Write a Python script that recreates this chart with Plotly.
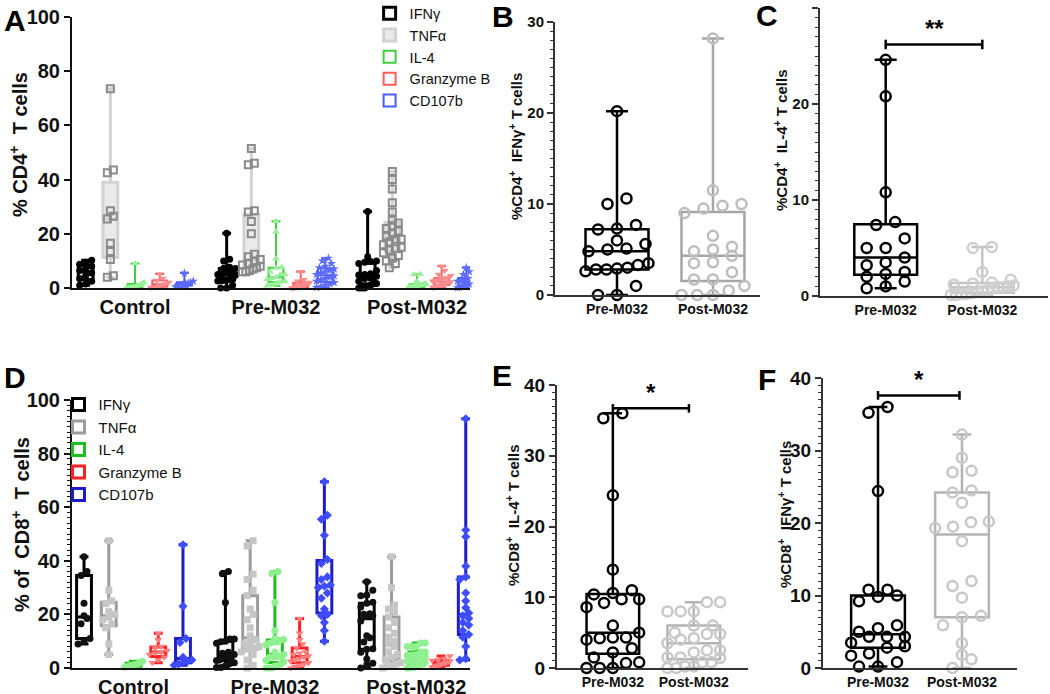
import plotly.graph_objects as go

FONT = "Liberation Sans, Arial, Helvetica, sans-serif"
W, H = 1050, 694

groups = ["Control", "Pre-M032", "Post-M032"]
pair_groups = ["Pre-M032", "Post-M032"]
series_names = ["IFNγ", "TNFα", "IL-4", "Granzyme B", "CD107b"]

# ---------------- CD4+ T cells (%), panel A (and B, C) ----------------
cd4_ctrl_ifng = [10.2, 9.5, 8.8, 8.0, 7.2, 6.5, 5.5, 4.5, 3.5, 2.5, 1.5, 1.0]
cd4_ctrl_tnfa = [73.5, 43.5, 42.5, 28.5, 26.5, 25.5, 16.5, 13.5, 10.5, 4.5, 4.0]
cd4_ctrl_il4 = [9.0, 2.0, 1.5, 1.0, 0.8, 0.5, 0.3, 0.2, 0.1, 0.0]
cd4_ctrl_grzb = [5.2, 3.5, 2.8, 2.0, 1.5, 1.2, 0.8, 0.5, 0.3, 0.2]
cd4_ctrl_cd107b = [5.5, 2.5, 2.0, 1.8, 1.5, 1.2, 1.0, 0.8, 0.5]

cd4_pre_ifng = [20.2, 10.6, 10.0, 7.7, 7.3, 7.2, 6.0, 5.6, 5.1, 5.0, 4.8, 3.5, 3.3,
                3.0, 2.9, 2.8, 2.8, 2.6, 1.0, 0.0, 0.0]
cd4_pre_tnfa = [51.5, 46.0, 45.5, 28.5, 28.0, 24.5, 20.0, 12.5, 11.5, 10.5, 10.0, 9.0,
                8.5, 8.0, 7.5, 7.0, 6.5, 6.0, 6.0]
cd4_pre_il4 = [24.6, 20.8, 10.8, 7.7, 7.4, 6.0, 5.0, 5.0, 4.0, 3.5, 3.2, 2.5, 2.3,
               2.0, 1.5, 1.0, 0.8]
cd4_pre_grzb = [6.0, 3.0, 2.5, 2.0, 1.8, 1.5, 1.2, 1.0, 0.8, 0.6, 0.5, 0.3, 0.2, 0.1, 0.0]
cd4_pre_cd107b = [11.0, 10.0, 9.0, 8.0, 7.5, 7.0, 6.5, 6.0, 5.5, 5.0, 4.5, 4.0, 3.5,
                  3.0, 2.5, 2.0, 1.5, 1.0, 0.5, 0.2]

cd4_post_ifng = [28.2, 11.5, 10.0, 9.8, 9.5, 9.0, 6.5, 5.3, 5.0, 4.8, 4.3, 3.6, 3.5,
                 2.5, 1.7, 1.7, 1.0, 0.5, 0.0, 0.0, 0.0]
cd4_post_tnfa = [43.0, 40.0, 36.5, 31.5, 28.0, 25.0, 24.0, 23.0, 22.0, 21.0, 20.0,
                 19.0, 18.0, 18.0, 17.0, 16.0, 15.0, 14.5, 14.0, 13.0, 12.0, 11.0,
                 10.0, 9.0, 7.5]
cd4_post_il4 = [5.1, 5.0, 2.5, 1.7, 1.4, 1.3, 1.2, 1.1, 1.0, 0.9, 0.9, 0.8, 0.6, 0.5,
                0.4, 0.3, 0.2, 0.2, 0.1, 0.1]
cd4_post_grzb = [8.0, 6.5, 5.0, 4.5, 3.8, 3.5, 3.2, 3.0, 2.8, 2.5, 2.2, 2.0, 1.8, 1.5,
                 1.2, 1.0, 0.8, 0.5, 0.3, 0.2]
cd4_post_cd107b = [7.5, 6.0, 5.0, 4.2, 3.8, 3.5, 3.0, 2.8, 2.5, 2.2, 2.0, 1.8, 1.5,
                   1.2, 1.0, 0.8, 0.5, 0.3, 0.1]

# ---------------- CD8+ T cells (%), panel D (and E, F) ----------------
cd8_ctrl_ifng = [41.5, 36.0, 34.5, 24.2, 19.5, 18.5, 16.5, 11.0, 10.0, 9.0]
cd8_ctrl_tnfa = [47.5, 29.0, 25.0, 24.0, 21.0, 20.0, 19.0, 18.0, 16.5, 15.0, 9.0, 5.0]
cd8_ctrl_il4 = [2.5, 2.0, 1.5, 1.2, 1.0, 0.8, 0.5, 0.3]
cd8_ctrl_grzb = [13.0, 10.5, 8.0, 7.5, 6.5, 6.0, 5.5, 5.0, 4.0, 3.0, 2.0]
cd8_ctrl_cd107b = [46.0, 23.0, 11.0, 9.5, 4.0, 3.0, 2.5, 2.0, 1.5, 1.0]

cd8_pre_ifng = [36.0, 35.2, 24.4, 10.8, 10.8, 10.0, 9.8, 9.2, 5.9, 5.5, 5.0, 4.3, 4.3,
                4.3, 3.5, 3.0, 2.8, 2.0, 1.7, 0.8, 0.2, 0.2]
cd8_pre_tnfa = [47.5, 45.5, 35.0, 33.0, 29.0, 27.0, 22.0, 20.0, 18.0, 15.0, 12.0, 10.5,
                9.5, 9.0, 8.0, 7.5, 7.0, 6.0, 5.0, 3.0, 1.0, 0.0]
cd8_pre_il4 = [36.0, 35.3, 24.4, 13.9, 11.0, 10.6, 10.4, 9.7, 9.7, 9.2, 8.6, 6.0, 5.0,
               4.3, 4.3, 4.2, 4.0, 2.8, 2.2, 1.5, 0.8, 0.7, 0.0, 0.0, 0.0]
cd8_pre_grzb = [18.5, 13.0, 10.5, 9.0, 7.5, 6.0, 5.5, 5.0, 4.5, 4.0, 3.5, 3.0, 2.5,
                2.0, 1.5, 1.0, 0.5, 0.0]
cd8_pre_cd107b = [69.5, 57.0, 55.5, 49.5, 40.5, 39.0, 34.0, 33.0, 31.0, 30.5, 30.0,
                  28.0, 26.0, 22.0, 20.0, 19.5, 17.0, 14.0, 10.0]

cd8_post_ifng = [32.2, 29.0, 27.2, 27.0, 24.5, 24.2, 22.8, 20.2, 20.1, 19.5, 19.3,
                 17.5, 12.0, 11.3, 9.7, 7.2, 7.0, 5.9, 3.4, 1.8, 1.2, 0.0]
cd8_post_tnfa = [41.5, 30.0, 23.5, 22.0, 21.0, 19.0, 17.0, 15.0, 13.0, 11.5, 10.0, 9.0,
                 8.0, 6.0, 5.0, 4.0, 3.0, 2.0, 1.5, 1.0, 0.5, 0.0]
cd8_post_il4 = [9.3, 9.3, 8.0, 8.0, 8.0, 6.0, 6.0, 5.0, 4.8, 4.8, 4.2, 4.0, 3.5, 2.5,
                2.5, 2.2, 1.5, 1.5, 1.4, 0.8, 0.8, 0.2, 0.2, 0.0, 0.0]
cd8_post_grzb = [4.5, 3.5, 3.0, 2.8, 2.5, 2.2, 2.0, 1.8, 1.5, 1.2, 1.0, 0.8, 0.5, 0.3]
cd8_post_cd107b = [93.0, 51.5, 49.0, 38.0, 35.0, 34.0, 33.0, 28.0, 25.0, 22.5, 20.5,
                   19.5, 18.5, 17.0, 16.0, 14.0, 12.5, 11.5, 8.0, 5.0, 3.5, 3.0]

cd4_data = [
    [cd4_ctrl_ifng, cd4_ctrl_tnfa, cd4_ctrl_il4, cd4_ctrl_grzb, cd4_ctrl_cd107b],
    [cd4_pre_ifng, cd4_pre_tnfa, cd4_pre_il4, cd4_pre_grzb, cd4_pre_cd107b],
    [cd4_post_ifng, cd4_post_tnfa, cd4_post_il4, cd4_post_grzb, cd4_post_cd107b],
]
cd8_data = [
    [cd8_ctrl_ifng, cd8_ctrl_tnfa, cd8_ctrl_il4, cd8_ctrl_grzb, cd8_ctrl_cd107b],
    [cd8_pre_ifng, cd8_pre_tnfa, cd8_pre_il4, cd8_pre_grzb, cd8_pre_cd107b],
    [cd8_post_ifng, cd8_post_tnfa, cd8_post_il4, cd8_post_grzb, cd8_post_cd107b],
]

# significance brackets
sig_C = "**"
sig_E = "*"
sig_F = "*"
sig_C_level = 26.2
sig_E_level = 36.7
sig_F_level = 37.6

# ---------------- styles ----------------
A_box_colors = ['#000000', '#d2d2d2', '#3fcf3f', '#ff5c5c', '#4a5cff']
A_box_fill = ['rgba(0,0,0,0)', 'rgba(225,225,225,0.7)', 'rgba(0,0,0,0)',
              'rgba(0,0,0,0)', 'rgba(0,0,0,0)']
A_mk_colors = ['#000000', '#8a8a8a', '#9af09a', '#ff8c8c', '#5d6bff']
A_symbols = ['circle', 'square-open', 'triangle-up', 'triangle-down', 'star']
D_box_colors = ['#000000', '#9c9c9c', '#1fbf1f', '#ff2020', '#1c1cc8']
D_mk_colors = ['#111111', '#c6c6c6', '#8ff08f', '#ff7f7f', '#3d4dff']
D_symbols = ['circle', 'square', 'circle', 'triangle-down', 'diamond']


def swarm(vals, ppy, ppx, mk, step_px, max_half):
    """horizontal spread of points that overlap vertically (GraphPad-like)."""
    ytol = mk / ppy
    order = sorted(range(len(vals)), key=lambda i: vals[i])
    rows = []
    for i in order:
        if rows and vals[i] - vals[rows[-1][0]] < ytol:
            rows[-1].append(i)
        else:
            rows.append([i])
    off = [0.0] * len(vals)
    xstep = step_px / ppx
    for r in rows:
        k = len(r)
        st = xstep if k == 1 else min(xstep, 2 * max_half / (k - 1))
        for j, i in enumerate(r):
            off[i] = (j - (k - 1) / 2) * st
    return off


fig = go.Figure()

# panel geometry in pixels
geo = {
    'A': dict(ax='x', ay='y', x0=72, x1=470, yt=17, yb=288, xr=[-0.447, 2.376], yr=[0, 100]),
    'B': dict(ax='x2', ay='y2', x0=555, x1=760, yt=22, yb=295, xr=[-0.646, 1.49], yr=[0, 30]),
    'C': dict(ax='x3', ay='y3', x0=820, x1=1048, yt=8, yb=296, xr=[-0.68, 1.68], yr=[0, 30]),
    'D': dict(ax='x4', ay='y4', x0=72, x1=470, yt=400, yb=668, xr=[-0.435, 2.38], yr=[0, 100]),
    'E': dict(ax='x5', ay='y5', x0=557, x1=748, yt=385, yb=668, xr=[-0.69, 1.67], yr=[0, 40]),
    'F': dict(ax='x6', ay='y6', x0=823, x1=1017, yt=378, yb=668, xr=[-0.655, 1.655], yr=[0, 40]),
}


def ppx(g):
    return (g['x1'] - g['x0']) / (g['xr'][1] - g['xr'][0])


def ppy(g):
    return (g['yb'] - g['yt']) / (g['yr'][1] - g['yr'][0])


# ---------- multi-series panels A and D ----------
def multi_panel(key, data, box_colors, box_fill, box_lw, mk_colors, symbols, legend,
                mk_open):
    g = geo[key]
    sp = 0.175
    bw = 0.105
    for s, name in enumerate(series_names):
        xs, ys, px_, py_ = [], [], [], []
        for gi in range(len(groups)):
            vals = data[gi][s]
            pos = gi + (s - 2) * sp
            xs += [pos] * len(vals)
            ys += vals
            off = swarm(vals, ppy(g), ppx(g), 6, 6, bw * 0.6)
            px_ += [pos + o for o in off]
            py_ += vals
        fig.add_trace(go.Box(
            x=xs, y=ys, xaxis=g['ax'], yaxis=g['ay'], boxpoints=False, width=bw,
            whiskerwidth=0.6, line=dict(color=box_colors[s], width=box_lw[s]),
            fillcolor=box_fill[s], name=name, legend=legend, showlegend=True,
            hoverinfo='skip'))
        mk = dict(symbol=symbols[s], color=mk_colors[s], size=7,
                  line=dict(width=2 if mk_open[s] else 0, color=mk_colors[s]))
        fig.add_trace(go.Scatter(
            x=px_, y=py_, xaxis=g['ax'], yaxis=g['ay'], mode='markers', marker=mk,
            cliponaxis=False, showlegend=False, hoverinfo='skip'))


multi_panel('A', cd4_data, A_box_colors, A_box_fill, [3, 3, 2, 2, 2], A_mk_colors,
            A_symbols, 'legend', [False, True, False, False, False])
multi_panel('D', cd8_data, D_box_colors, ['rgba(0,0,0,0)'] * 5, [3, 3, 3, 3, 3],
            D_mk_colors, D_symbols, 'legend2', [False] * 5)


# ---------- paired panels B, C, E, F ----------
def pair_panel(key, pre, post, post_box, post_mk, bw):
    g = geo[key]
    for gi, (vals, bc, mc) in enumerate([(pre, '#000000', '#000000'),
                                           (post, post_box, post_mk)]):
        fig.add_trace(go.Box(
            x=[gi] * len(vals), y=vals, xaxis=g['ax'], yaxis=g['ay'], boxpoints=False,
            width=bw, whiskerwidth=0.35, line=dict(color=bc, width=2.5),
            fillcolor='rgba(0,0,0,0)', showlegend=False, hoverinfo='skip'))
        off = swarm(vals, ppy(g), ppx(g), 10, 19, bw / 2)
        fig.add_trace(go.Scatter(
            x=[gi + o for o in off], y=vals, xaxis=g['ax'], yaxis=g['ay'],
            mode='markers', cliponaxis=False, showlegend=False, hoverinfo='skip',
            marker=dict(symbol='circle-open', size=10, color=mc, line=dict(width=2.5))))


pair_panel('B', cd4_pre_ifng, cd4_post_ifng, '#a6a6a6', '#bdbdbd', 0.656)
pair_panel('C', cd4_pre_il4, cd4_post_il4, '#c4c4c4', '#cfcfcf', 0.65)
pair_panel('E', cd8_pre_il4, cd8_post_il4, '#b4b4b4', '#c8c8c8', 0.65)
pair_panel('F', cd8_pre_ifng, cd8_post_ifng, '#b4b4b4', '#c8c8c8', 0.64)


def bracket(key, level, x1, cap):
    g = geo[key]
    fig.add_trace(go.Scatter(
        x=[0, 0, None, 0, x1, None, x1, x1],
        y=[level - cap, level + cap, None, level, level, None, level - cap, level + cap],
        xaxis=g['ax'], yaxis=g['ay'], mode='lines', line=dict(color='#000000', width=2.5),
        cliponaxis=False, showlegend=False, hoverinfo='skip'))


brackets = [('C', sig_C, sig_C_level, 1.0, 0.5), ('E', sig_E, sig_E_level, 0.94, 0.6),
            ('F', sig_F, sig_F_level, 0.97, 0.6)]
for key, txt, lvl, x1, cap in brackets:
    bracket(key, lvl, x1, cap)

# ---------- axes ----------
layout_axes = {}
tick_sizes = {'A': 20, 'B': 15, 'C': 15, 'D': 20, 'E': 19, 'F': 19}
cat_sizes = {'A': 20, 'B': 14, 'C': 14, 'D': 20, 'E': 14, 'F': 14}
minor_dt = {'A': None, 'B': 1, 'C': 1, 'D': 2, 'E': 1, 'F': 1}
for key, g in geo.items():
    xn = 'xaxis' + g['ax'][1:]
    yn = 'yaxis' + g['ay'][1:]
    cats = groups if key in 'AD' else pair_groups
    axc = '#111111' if key in 'AD' else '#333333'
    layout_axes[xn] = dict(
        domain=[g['x0'] / W, g['x1'] / W], range=g['xr'], anchor=g['ay'],
        showline=True, linecolor=axc, linewidth=2, ticks='', showgrid=False,
        zeroline=False, tickvals=list(range(len(cats))), ticktext=cats,
        tickfont=dict(family=FONT, size=cat_sizes[key], color='#111111', weight='bold'),
        fixedrange=True)
    ya = dict(
        domain=[1 - g['yb'] / H, 1 - g['yt'] / H], range=g['yr'], anchor=g['ax'],
        showline=True, linecolor=axc, linewidth=2, ticks='outside', ticklen=6,
        tickwidth=2, tickcolor=axc, showgrid=False, zeroline=False,
        dtick=(20 if key in 'AD' else 10),
        tickfont=dict(family=FONT, size=tick_sizes[key], color='#111111', weight='bold'),
        fixedrange=True)
    if minor_dt[key]:
        ya['minor'] = dict(ticks='outside', ticklen=3, tickwidth=1, tickcolor=axc,
                           dtick=minor_dt[key], showgrid=False)
    layout_axes[yn] = ya

annotations = []
# panel letters
for letter, (x, y) in {'A': (15, 21), 'B': (503, 17), 'C': (767, 15),
                       'D': (15, 377), 'E': (502, 375), 'F': (767, 380)}.items():
    annotations.append(dict(text=letter, x=x / W, y=1 - y / H, xref='paper', yref='paper',
                            xanchor='center', yanchor='middle', showarrow=False,
                            font=dict(family=FONT, size=30, color='#000', weight='bold')))
# y titles
ytitles = [
    ("% CD4<sup>+</sup>  T cells", 18, 145, 20),
    ("%CD4<sup>+</sup>  IFNγ<sup>+</sup> T cells", 515, 147, 15),
    ("%CD4<sup>+</sup>  IL-4<sup>+</sup> T cells", 780, 140, 15),
    ("% of  CD8<sup>+</sup>  T cells", 20, 525, 20),
    ("%CD8<sup>+</sup>  IL-4<sup>+</sup> T cells", 512, 515, 15),
    ("%CD8<sup>+</sup>  IFNγ<sup>+</sup> T cells", 784, 515, 15),
]
for t, x, y, s in ytitles:
    annotations.append(dict(text=t, x=x / W, y=1 - y / H, xref='paper', yref='paper',
                            xanchor='center', yanchor='middle', showarrow=False,
                            textangle=-90,
                            font=dict(family=FONT, size=s, color='#111', weight='bold')))
# significance stars
for key, txt, lvl, x1, cap in brackets:
    g = geo[key]
    annotations.append(dict(text=txt, x=x1 / 2, y=lvl, xref=g['ax'], yref=g['ay'],
                            xanchor='center', yanchor='bottom', showarrow=False,
                            font=dict(family=FONT, size=24, color='#000', weight='bold')))

fig.update_layout(
    width=W, height=H, margin=dict(l=0, r=0, t=0, b=0, autoexpand=False),
    paper_bgcolor='white', plot_bgcolor='white', boxmode='overlay',
    font=dict(family=FONT, color='#111'),
    legend=dict(x=0.352, y=1.004, xanchor='left', yanchor='top', bgcolor='rgba(0,0,0,0)',
                font=dict(family=FONT, size=14.5, color='#111'), tracegroupgap=0,
                itemclick=False, itemdoubleclick=False),
    legend2=dict(x=0.0557, y=0.4405, xanchor='left', yanchor='top',
                 bgcolor='rgba(0,0,0,0)',
                 font=dict(family=FONT, size=15, color='#111'), tracegroupgap=0,
                 itemclick=False, itemdoubleclick=False),
    annotations=annotations,
    **layout_axes,
)

fig.write_html("out.html", config={'displayModeBar': False, 'staticPlot': True},
               post_script="document.body.style.margin='0px';"
                           "document.body.style.overflow='hidden';")
